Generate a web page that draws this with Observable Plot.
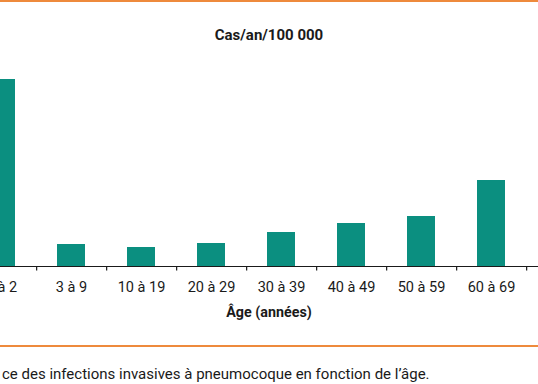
<!DOCTYPE html>
<html>
<head>
<meta charset="utf-8">
<script src="https://cdn.jsdelivr.net/npm/d3@7"></script>
<script src="https://cdn.jsdelivr.net/npm/@observablehq/plot@0.6"></script>
<style>
  html, body { margin: 0; padding: 0; background: #fff; overflow: hidden; }
  #wrap { position: relative; width: 538px; height: 384px; overflow: hidden; font-family: Roboto, "Noto Sans", sans-serif; color: #1a1a1a; }
  .rule { position: absolute; left: 0; width: 538px; height: 2px; background: #ee8a3c; }
  .title { position: absolute; left: 0; width: 538px; text-align: center; font-weight: bold; font-size: 15px; }
  .caption { position: absolute; left: 2px; white-space: nowrap; font-size: 15px; }
  #chart { position: absolute; left: 0; top: 0; }
</style>
</head>
<body>
<div id="wrap">
  <div class="rule" style="top:0px"></div>
  <div class="title" style="top:26px">Cas/an/100 000</div>
  <div id="chart"></div>
  <div class="title" style="top:304px;font-size:14.3px">Âge (années)</div>
  <div class="rule" style="top:345px"></div>
  <div class="caption" style="top:365px">ce des infections invasives à pneumocoque en fonction de l’âge.</div>
</div>
<script>
const categories = ["0 à 2", "3 à 9", "10 à 19", "20 à 29", "30 à 39", "40 à 49", "50 à 59", "60 à 69", "≥ 70"];
const visibleAges = ["0 à 2", "3 à 9", "10 à 19", "20 à 29", "30 à 39", "40 à 49", "50 à 59", "60 à 69"];
const incidence = [18.7, 2.2, 1.9, 2.3, 3.4, 4.3, 5.0, 8.6];

const data = visibleAges.map((a, i) => ({age: a, value: incidence[i]}));
const step = 70.3;

const chart = Plot.plot({
  width: 538,
  height: 300,
  marginTop: 66,
  marginBottom: 34,
  marginLeft: 0,
  marginRight: 0,
  style: {overflow: "hidden", fontFamily: "Roboto, 'Noto Sans', sans-serif", fontSize: "14.5px", color: "#1a1a1a", background: "transparent"},
  x: {domain: categories, range: [-step / 2, -step / 2 + step * categories.length], paddingInner: 0.6, paddingOuter: 0.3, align: 0.5, label: null},
  y: {domain: [0, 20], axis: null},
  marks: [
    Plot.barY(data, {x: "age", y: "value", fill: "#0b8f80"}),
    Plot.ruleY([0], {stroke: "#1a1a1a", strokeWidth: 1.2}),
    Plot.ruleX(categories, {x: d => d, y1: 0, y2: -0.45, dx: step / 2, stroke: "#1a1a1a", strokeWidth: 1.2}),
    Plot.axisX({ticks: visibleAges, tickSize: 0, tickPadding: 15.5, label: null, fontSize: 14.5})
  ]
});
document.getElementById("chart").appendChild(chart);
</script>
</body>
</html>
